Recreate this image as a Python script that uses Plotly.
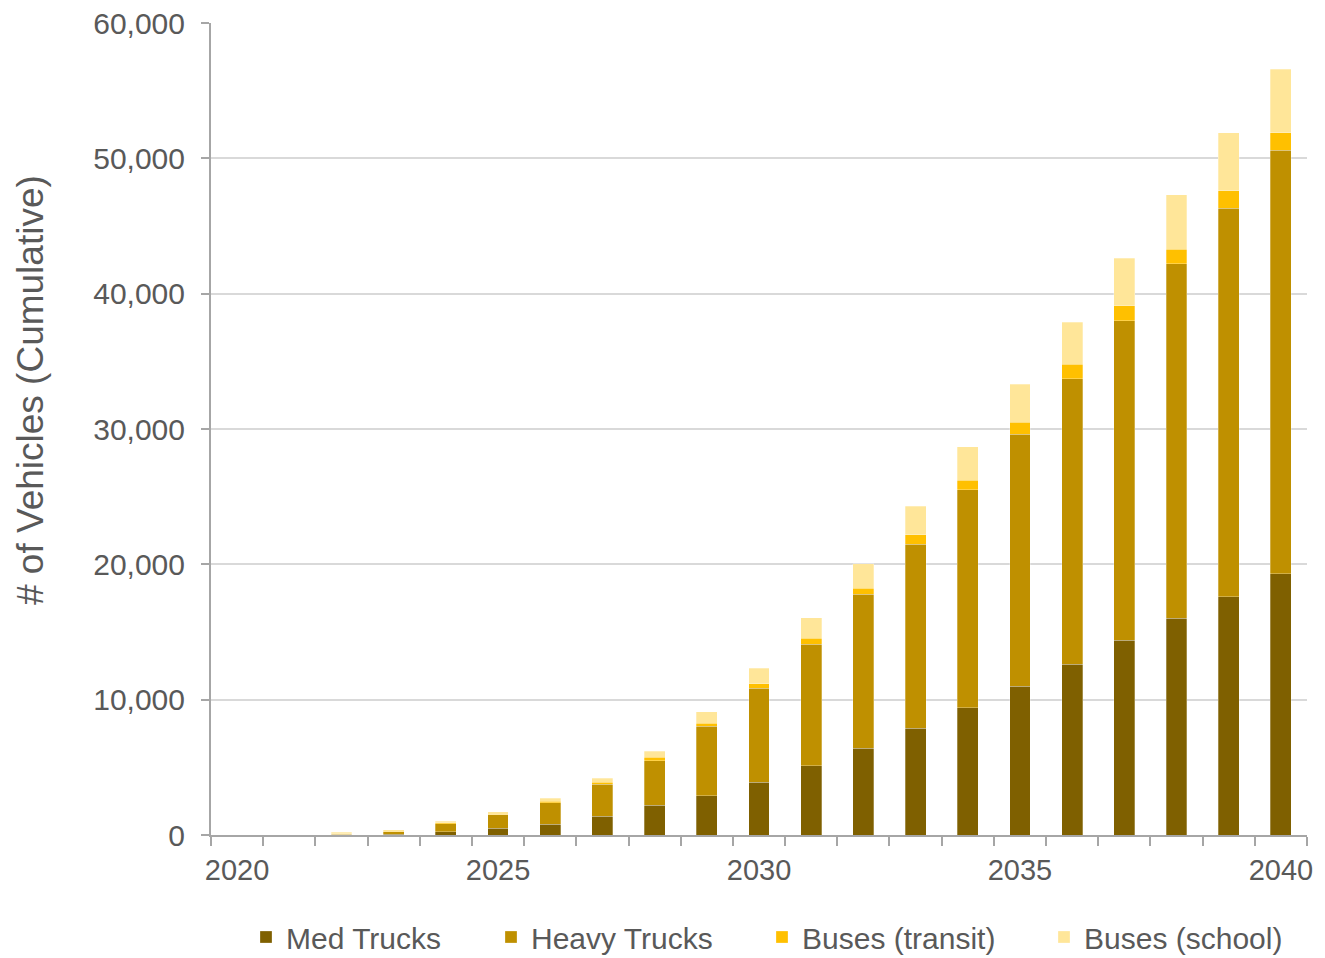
import plotly.graph_objects as go

years = list(range(2020, 2041))
med_trucks = [0, 0, 20, 50, 250, 500, 800, 1400, 2200, 2900, 3900, 5100, 6400, 7900, 9400, 11000, 12600, 14400, 16000, 17600, 19300]
heavy_trucks = [0, 0, 50, 200, 600, 1000, 1600, 2350, 3300, 5150, 6960, 9000, 11400, 13600, 16100, 18600, 21100, 23600, 26200, 28700, 31300]
buses_transit = [0, 0, 10, 30, 50, 50, 100, 150, 250, 200, 300, 450, 450, 700, 700, 900, 1100, 1100, 1100, 1300, 1300]
buses_school = [0, 0, 120, 120, 120, 150, 200, 300, 450, 870, 1150, 1500, 1800, 2100, 2500, 2800, 3100, 3500, 4000, 4300, 4700]

series = [
    ("Med Trucks", med_trucks, "#7F6000"),
    ("Heavy Trucks", heavy_trucks, "#BF9000"),
    ("Buses (transit)", buses_transit, "#FFC000"),
    ("Buses (school)", buses_school, "#FFE699"),
]
legend_x_px = [246, 491, 762, 1044]

L, R, T, B = 211, 18, 23, 123
W, H = 1325, 958
pw = W - L - R
ph = H - T - B
FONT = "Liberation Sans, Arial, sans-serif"

fig = go.Figure()
layout_legends = {}
for i, (name, vals, color) in enumerate(series):
    lg = "legend" if i == 0 else f"legend{i+1}"
    fig.add_trace(go.Bar(
        x=years, y=vals, name=name, width=0.4,
        marker=dict(color=color, line=dict(width=0.8, color="rgba(255,255,255,0.35)")),
        legend=lg,
    ))
    layout_legends[lg] = dict(
        x=(legend_x_px[i] - L) / pw, y=(835 - 937) / ph,
        xanchor="left", yanchor="middle", orientation="h",
        font=dict(family=FONT, size=30, color="#595959"),
        bgcolor="rgba(0,0,0,0)", itemwidth=30,
    )

fig.update_layout(
    barmode="stack",
    width=W, height=H,
    margin=dict(l=L, r=R, t=T, b=B, autoexpand=False),
    paper_bgcolor="white", plot_bgcolor="white",
    showlegend=True,
    **layout_legends,
)

fig.update_xaxes(
    range=[2019.5, 2040.5],
    tickvals=[2020, 2025, 2030, 2035, 2040],
    ticktext=["2020", "2025", "2030", "2035", "2040"],
    ticks="", ticklabelstandoff=8,
    showline=True, linecolor="#A6A6A6", linewidth=2,
    showgrid=False, zeroline=False,
    tickfont=dict(family=FONT, size=29, color="#595959"),
    minor=dict(tick0=2019.5, dtick=1, ticks="outside", ticklen=9, tickcolor="#A6A6A6", tickwidth=2, showgrid=False),
)

fig.update_yaxes(
    range=[0, 60000], dtick=10000, tickformat=",d",
    ticks="outside", ticklen=8, tickcolor="#A6A6A6", tickwidth=2,
    ticklabelstandoff=10,
    showline=True, linecolor="#A6A6A6", linewidth=2,
    showgrid=True, gridcolor="#D9D9D9", gridwidth=1.5,
    zeroline=False,
    tickfont=dict(family=FONT, size=30, color="#595959"),
)

fig.add_annotation(
    text="# of Vehicles (Cumulative)", textangle=-90,
    xref="paper", yref="paper",
    x=(30 - L) / pw, y=(835 - 390) / ph,
    xanchor="center", yanchor="middle", showarrow=False,
    font=dict(family=FONT, size=37, color="#595959"),
)

fig.write_html("out.html")
